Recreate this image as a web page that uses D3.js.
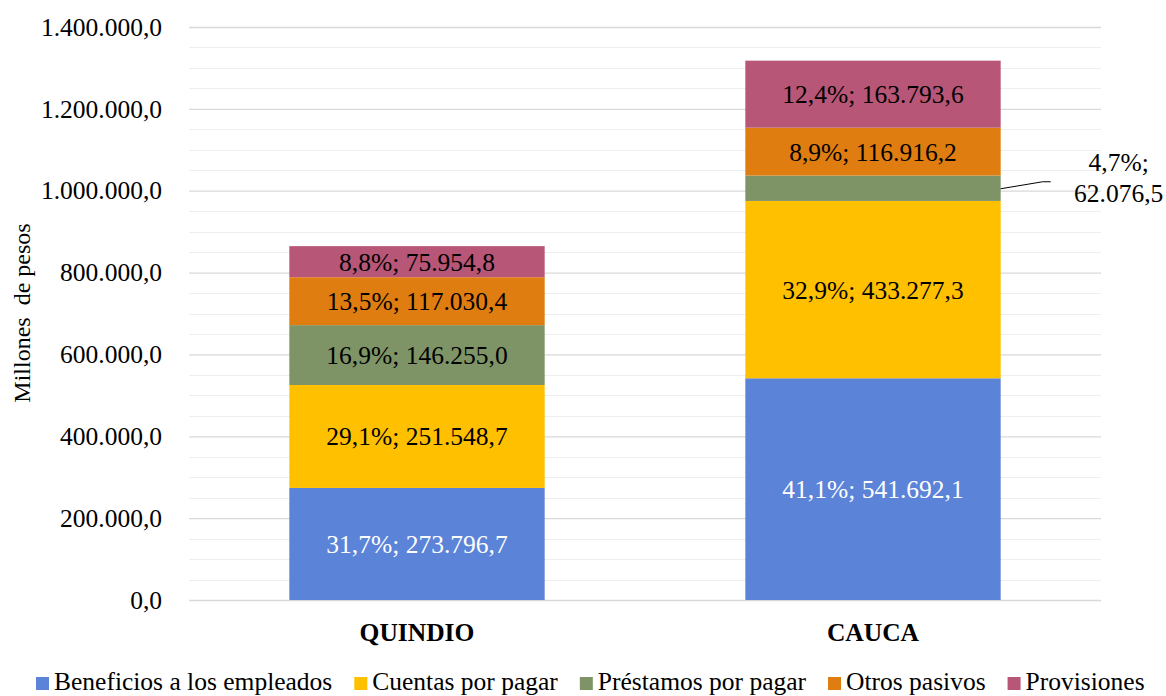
<!DOCTYPE html>
<html>
<head>
<meta charset="utf-8">
<script src="https://cdn.jsdelivr.net/npm/d3@7"></script>
<style>
  body { margin: 0; background: #fff; }
</style>
</head>
<body>
<svg id="chart" width="1166" height="696" font-family="Liberation Serif"></svg>
<script>
// Data
var regions = ["QUINDIO", "CAUCA"];
var seriesNames = ["Beneficios a los empleados", "Cuentas por pagar", "Préstamos por pagar", "Otros pasivos", "Provisiones"];
var seriesColors = ["#5b83d8", "#ffc000", "#7e9466", "#e07d10", "#b75677"];
var beneficios = [273796.7, 541692.1];
var cuentas = [251548.7, 433277.3];
var prestamos = [146255.0, 62076.5];
var otros = [117030.4, 116916.2];
var provisiones = [75954.8, 163793.6];
var shares = [
    [31.7, 41.1],
    [29.1, 32.9],
    [16.9, 4.7],
    [13.5, 8.9],
    [8.8, 12.4]
];
var yTicks = [0, 200000, 400000, 600000, 800000, 1000000, 1200000, 1400000];

var values = [beneficios, cuentas, prestamos, otros, provisiones];
var FONT = "Liberation Serif";
var FS = 25.5;

var fmt = d3.formatLocale({decimal: ",", thousands: ".", grouping: [3], currency: ["$", ""]});
var fmtNum = fmt.format(",.1f");

var svg = d3.select("#chart");
var margin = {left: 189, right: 65, top: 27, bottom: 96};
var W = 1166, H = 696;

var x = d3.scaleBand().domain(regions).range([margin.left, W - margin.right]).paddingInner(0.44).paddingOuter(0.22);
var y = d3.scaleLinear().domain([0, 1400000]).range([H - margin.bottom, margin.top]);

// minor gridlines
svg.append("g")
    .selectAll("line")
    .data(d3.range(0, 1400001, 50000).filter(v => v % 200000 != 0))
    .join("line")
    .attr("x1", margin.left).attr("x2", W - margin.right)
    .attr("y1", d => Math.round(y(d)) + 0.5).attr("y2", d => Math.round(y(d)) + 0.5)
    .attr("stroke", "#eeeeee").attr("stroke-width", 1);

// major gridlines and ticks
var yAxis = d3.axisLeft(y).tickValues(yTicks).tickFormat(fmtNum).tickSize(-(W - margin.left - margin.right)).tickPadding(27);
var gy = svg.append("g").attr("transform", `translate(${margin.left},0)`).call(yAxis);
gy.attr("font-family", FONT).attr("font-size", FS);
gy.select(".domain").remove();
gy.selectAll(".tick line").attr("stroke", "#d9d9d9").attr("stroke-width", 1.3);
gy.selectAll(".tick text").attr("fill", "#000");

// stack
var rows = regions.map((r, i) => {
    var o = {region: r};
    seriesNames.forEach((s, k) => { o[s] = values[k][i]; });
    return o;
});
var stacked = d3.stack().keys(seriesNames)(rows);

var layers = svg.append("g").selectAll("g")
    .data(stacked)
    .join("g")
    .attr("fill", (d, k) => seriesColors[k]);

layers.selectAll("rect")
    .data(d => d)
    .join("rect")
    .attr("x", d => x(d.data.region))
    .attr("width", x.bandwidth())
    .attr("y", d => y(d[1]))
    .attr("height", d => y(d[0]) - y(d[1]));

// labels
var labels = svg.append("g").attr("font-family", FONT).attr("font-size", FS);
stacked.forEach((layer, k) => {
    layer.forEach((d, i) => {
        var pct = d3.format(".1f")(shares[k][i]).replace(".", ",") + "%";
        var txt = pct + "; " + fmtNum(values[k][i]);
        var cx = x(d.data.region) + x.bandwidth() / 2;
        var cy = (y(d[0]) + y(d[1])) / 2;
        var color = k == 0 ? "#fff" : "#000";
        if (y(d[0]) - y(d[1]) < 28) {
            // outside label with leader line
            var lx = x(d.data.region) + x.bandwidth();
            var tx = lx + 118;
            svg.append("polyline")
                .attr("points", `${lx},${cy + 0.5} ${lx + 42},${cy - 6.5} ${lx + 50},${cy - 6.5}`)
                .attr("fill", "none").attr("stroke", "#000").attr("stroke-width", 1);
            labels.append("text").attr("x", tx).attr("y", cy - 26).attr("dy", "0.35em")
                .attr("text-anchor", "middle").text(pct + ";");
            labels.append("text").attr("x", tx).attr("y", cy + 5).attr("dy", "0.35em")
                .attr("text-anchor", "middle").text(fmtNum(values[k][i]));
        } else {
            labels.append("text").attr("x", cx).attr("y", cy).attr("dy", "0.35em")
                .attr("text-anchor", "middle").attr("fill", color).text(txt);
        }
    });
});

// x axis labels
svg.append("g").selectAll("text")
    .data(regions)
    .join("text")
    .attr("x", d => x(d) + x.bandwidth() / 2)
    .attr("y", 632).attr("dy", "0.35em")
    .attr("text-anchor", "middle").attr("font-family", FONT).attr("font-size", FS).attr("font-weight", "bold")
    .text(d => d);

// y axis title
svg.append("text")
    .attr("transform", "translate(22,313) rotate(-90)")
    .attr("dy", "0.35em")
    .attr("text-anchor", "middle").attr("font-family", FONT).attr("font-size", 24)
    .attr("xml:space", "preserve")
    .style("white-space", "pre")
    .text("Millones  de pesos");

// legend
var legend = svg.append("g").attr("transform", "translate(36,681)").attr("font-family", FONT).attr("font-size", FS);
var lx = 0;
seriesNames.forEach((s, k) => {
    var g = legend.append("g").attr("transform", `translate(${lx},0)`);
    g.append("rect").attr("x", 0).attr("y", -4).attr("width", 13).attr("height", 13).attr("fill", seriesColors[k]);
    var t = g.append("text").attr("x", 18).attr("y", 0).attr("dy", "0.35em").text(s);
    lx += 18 + t.node().getComputedTextLength() + 22;
});
</script>
</body>
</html>
